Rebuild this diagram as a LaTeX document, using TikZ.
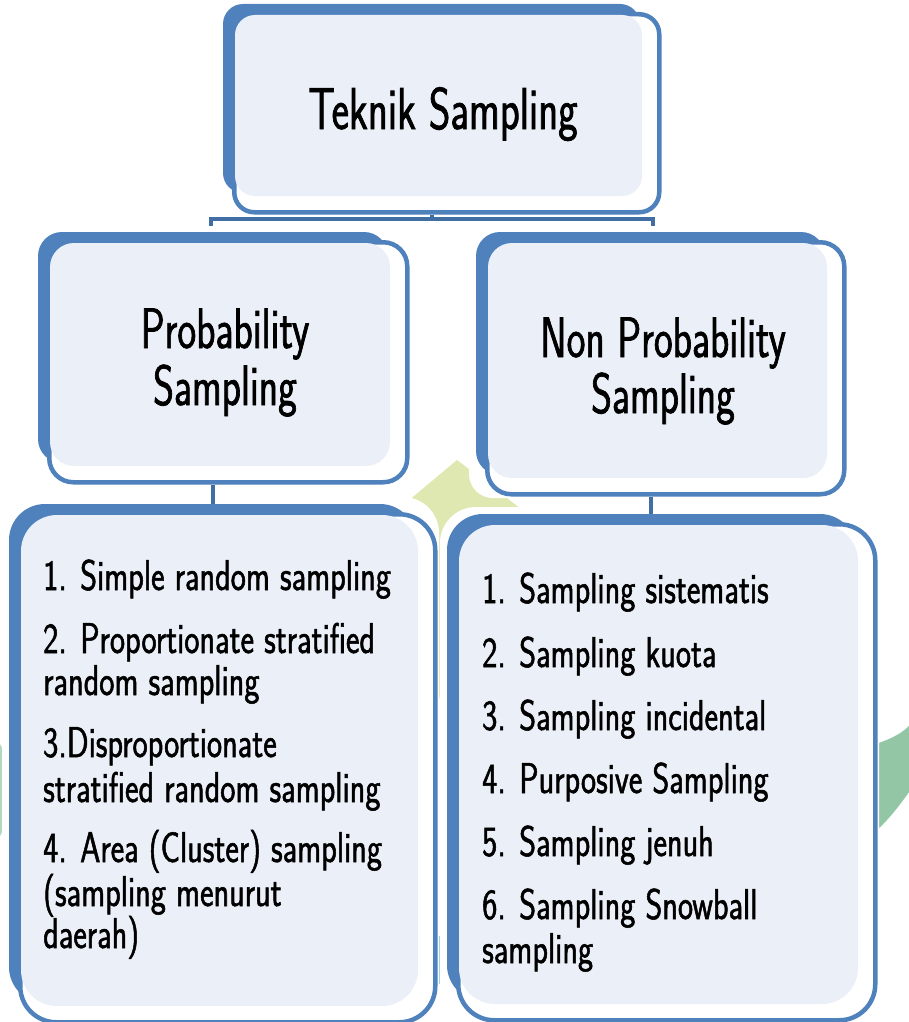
\documentclass[tikz,border=0pt]{standalone}
\usepackage{fontspec}
\newfontfamily\headfont{Latin Modern Sans}[FakeStretch=0.70,FakeBold=1.2]
\newfontfamily\itemfont{Latin Modern Sans}[FakeStretch=0.75,FakeBold=1.2]
\usetikzlibrary{calc}

\definecolor{skblue}{HTML}{4F81BD}
\definecolor{skline}{HTML}{426FA3}
\definecolor{skfill}{HTML}{EBF0F8}
\definecolor{wmyellow}{HTML}{DEE8B0}
\definecolor{wmgreen}{HTML}{93C6A5}
\definecolor{wmblue}{HTML}{86D2EA}

\pgfdeclarelayer{wm}
\pgfdeclarelayer{halo}
\pgfdeclarelayer{links}
\pgfsetlayers{wm,halo,links,main}

\tikzset{
  panel/.style={draw=skblue, line width=4.5pt, fill=white, rectangle, inner sep=0pt},
  conn/.style={draw=skline, line width=4pt},
  heading/.style={font=\headfont\fontsize{57}{57}\selectfont, inner sep=0pt, anchor=base},
  item/.style={font=\itemfont\fontsize{43}{43}\selectfont, inner sep=0pt, anchor=base west},
}

% #1 name, (#2,#3)-(#4,#5) outline corners, #6 corner radius
\newcommand\skpanel[6]{%
  \begin{pgfonlayer}{halo}
    \fill[white, rounded corners=#6] (#2-16,#3-15) rectangle (#4+6,#5+6);
  \end{pgfonlayer}
  \fill[skblue, rounded corners=#6] (#2-9,#3-8) rectangle (#4-17,#5-17);
  \node[panel, rounded corners=#6, minimum width={#4-#2}, minimum height={#5-#3},
        anchor=north west] (#1) at (#2,#3) {};
  \fill[skfill, rounded corners=#6] (#2+3,#3+3) rectangle (#4-15,#5-14);
}

\begin{document}
\begin{tikzpicture}[x=1pt,y=-1pt]
\useasboundingbox (0,0) rectangle (909,1022);

% faint emblem in the background
\begin{pgfonlayer}{wm}
  \begin{scope}
    \clip (0,0) rectangle (909,1022);
    \fill[wmyellow] (457,460) -- (525,512) -- (470,700) -- (440,700) -- (395,512) -- cycle;
    \fill[wmgreen] (862,748) .. controls (885,742) and (900,735) .. (909,726)
      -- (909,792) .. controls (895,812) and (880,830) .. (862,842) -- cycle;
    \fill[wmgreen!70!white] (-30,790) ellipse [x radius=40, y radius=70];
    \fill[wmblue] (440,960) ellipse [x radius=12, y radius=24];
  \end{scope}
\end{pgfonlayer}

% panels
\skpanel{top}{232}{12}{657}{210}{20}
\skpanel{prob}{47}{240}{405}{480}{24}
\skpanel{nprob}{485}{240}{842}{492}{24}
\skpanel{plist}{18}{512}{433}{1020}{36}
\skpanel{nlist}{456}{522}{873}{1018}{36}

% connectors
\coordinate (barL) at (211,226);
\coordinate (barM) at (432,219);
\coordinate (barR) at (653,226);
\coordinate (jl) at (213,0);
\coordinate (jr) at (651,0);
\begin{pgfonlayer}{links}
  \draw[conn] (top.south -| barM) -- (barM);
  \draw[conn] (barL) |- (barM) -| (barR);
  \draw[conn] (prob.south -| jl) -- (plist.north -| jl);
  \draw[conn] (nprob.south -| jr) -- (nlist.north -| jr);
\end{pgfonlayer}

% headings
\node[heading, font=\headfont\fontsize{59}{59}\selectfont] (ttl) at (443,129) {Teknik Sampling};
\node[heading] (pa) at (225,348) {Probability};
\node[heading] (pb) at (225,405) {Sampling};
\node[heading] (na) at (663,357) {Non Probability};
\node[heading] (nb) at (663,413) {Sampling};

% probability techniques
\node[item] (l1) at (43,590) {1. Simple random sampling};
\node[item] (l2) at (43,653) {2. Proportionate stratified};
\node[item] (l3) at (43,695) {random sampling};
\node[item] (l4) at (43,757) {3.Disproportionate};
\node[item] (l5) at (43,802) {stratified random sampling};
\node[item] (l6) at (43,862) {4. Area (Cluster) sampling};
\node[item] (l7) at (43,906) {(sampling menurut};
\node[item] (l8) at (43,948) {daerah)};

% non-probability techniques
\node[item] (r1) at (482,603) {1. Sampling sistematis};
\node[item] (r2) at (482,667) {2. Sampling kuota};
\node[item] (r3) at (482,730) {3. Sampling incidental};
\node[item] (r4) at (482,793) {4. Purposive Sampling};
\node[item] (r5) at (482,856) {5. Sampling jenuh};
\node[item] (r6) at (482,919) {6. Sampling Snowball};
\node[item] (r7) at (482,963) {sampling};
\end{tikzpicture}
\end{document}
